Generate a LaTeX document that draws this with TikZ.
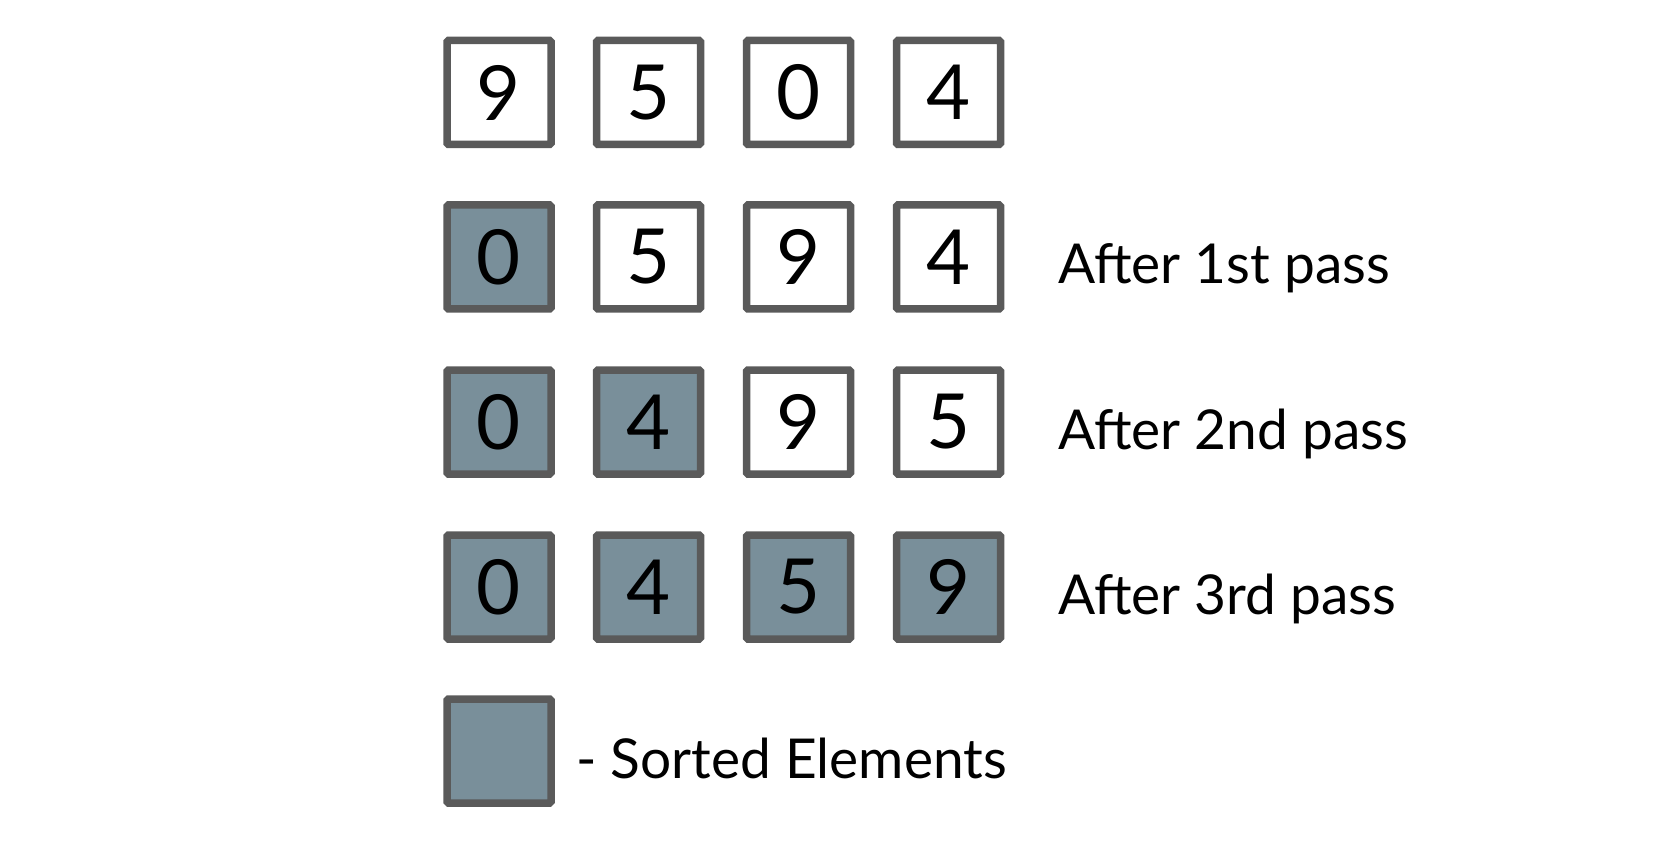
\documentclass[tikz,border=0pt]{standalone}
\usepackage{fontspec}
\setmainfont{Lato}
\definecolor{boxline}{HTML}{5A5A5A}
\definecolor{sortedfill}{HTML}{798F9A}
\begin{document}
\begin{tikzpicture}[x=1pt,y=-1pt,
  cell/.style={draw=boxline,line width=7.5pt,rounded corners=1.5pt,minimum size=104pt,inner sep=0pt,fill=white,font=\fontsize{76}{80}\selectfont},
  sorted/.style={cell,fill=sortedfill},
  lbl/.style={anchor=base west,inner sep=0pt,font=\fontsize{55}{60}\selectfont}]
\useasboundingbox (0,0) rectangle (1668,850);
% row 1
\node[cell] (a1) at (499,92.5) {9};
\node[cell] (a2) at (648.5,92.5) {5};
\node[cell] (a3) at (798.5,92.5) {0};
\node[cell] (a4) at (948.5,92.5) {4};
% row 2
\node[sorted] (b1) at (499,257) {0};
\node[cell] (b2) at (648.5,257) {5};
\node[cell] (b3) at (798.5,257) {9};
\node[cell] (b4) at (948.5,257) {4};
\node[lbl] (lb) at (1058,284) {After 1st pass};
% row 3
\node[sorted] (c1) at (499,422) {0};
\node[sorted] (c2) at (648.5,422) {4};
\node[cell] (c3) at (798.5,422) {9};
\node[cell] (c4) at (948.5,422) {5};
\node[lbl] (lc) at (1058,449) {After 2nd pass};
% row 4
\node[sorted] (d1) at (499,587) {0};
\node[sorted] (d2) at (648.5,587) {4};
\node[sorted] (d3) at (798.5,587) {5};
\node[sorted] (d4) at (948.5,587) {9};
\node[lbl] (ld) at (1058,614) {After 3rd pass};
% legend
\node[sorted] (leg) at (499,751) {};
\node[lbl] (ll) at (576,778) {- Sorted Elements};
\end{tikzpicture}
\end{document}
